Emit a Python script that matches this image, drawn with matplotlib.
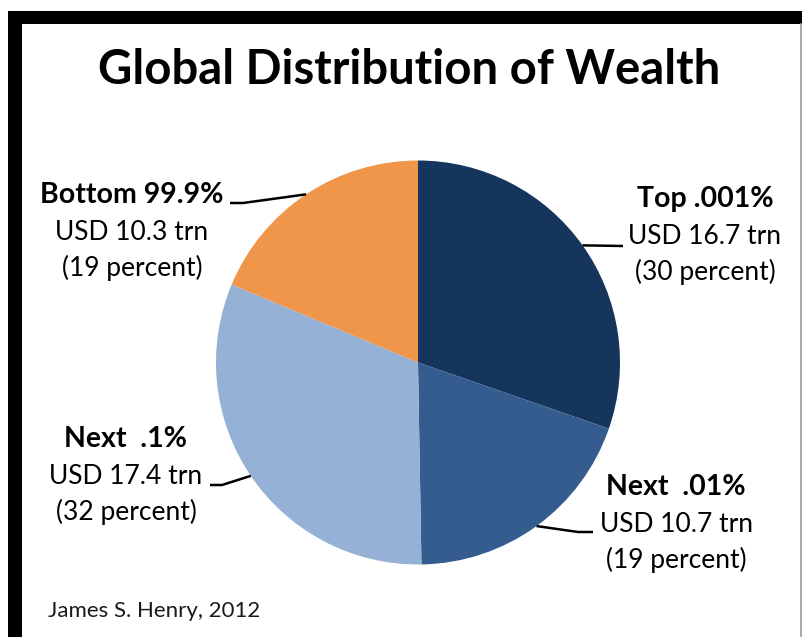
import numpy as np
import matplotlib
matplotlib.use("Agg")
import matplotlib.pyplot as plt
from matplotlib.patches import Rectangle

# wealth held by each group (USD trillion, share in percent)
groups = ["Top .001%", "Next  .01%", "Next  .1%", "Bottom 99.9%"]
wealth_trn = [16.7, 10.7, 17.4, 10.3]
share_pct = [30, 19, 32, 19]
colors = ["#16355C", "#345C8E", "#95B2D6", "#F0964A"]

plt.rcParams["font.family"] = ["Lato", "DejaVu Sans"]

W, H = 802, 637
fig = plt.figure(figsize=(W / 100, H / 100), dpi=100)
fig.patch.set_facecolor("white")

# pie placement in pixels
cx, cy, r = 418, 362.5, 202
ax = fig.add_axes([(cx - r) / W, (H - cy - r) / H, 2 * r / W, 2 * r / H])
wedges, _ = ax.pie(wealth_trn, colors=colors, startangle=90, counterclock=False,
                   wedgeprops=dict(linewidth=0))
ax.set_xlim(-1, 1)
ax.set_ylim(-1, 1)
ax.set_aspect("equal")

# overlay in pixel coords for frame, title and labels
ov = fig.add_axes([0, 0, 1, 1], zorder=5)
ov.set_xlim(0, W)
ov.set_ylim(H, 0)
ov.axis("off")
ov.patch.set_alpha(0)

# black frame at top and left, thin grey edge at right
ov.add_patch(Rectangle((8, 11), W - 8, 13, color="black", lw=0))
ov.add_patch(Rectangle((8, 11), 14, H - 11, color="black", lw=0))
ov.plot([801, 801], [24, H], color="#9a9a9a", lw=1.2)

ov.text(409.5, 83.5, "Global Distribution of Wealth", ha="center", va="baseline",
        fontsize=34, fontweight="bold", color="black")

# label block: centre x, first baseline, leader end, leader elbow
label_pos = [
    (705, 207, (623, 246), (623, 246)),
    (676, 495, (593, 532), (578, 532)),
    (126, 447, (210, 485), (222, 485)),
    (132, 203, (230, 203), (243, 203)),
]

for w, name, val, pct, (lx, ly, end, elbow) in zip(wedges, groups, wealth_trn, share_pct, label_pos):
    ov.text(lx, ly, name, ha="center", va="baseline", fontsize=20.5, fontweight="bold")
    ov.text(lx, ly + 37, f"USD {val} trn", ha="center", va="baseline", fontsize=19)
    ov.text(lx, ly + 73, f"({pct} percent)", ha="center", va="baseline", fontsize=19)
    mid = np.deg2rad((w.theta1 + w.theta2) / 2)
    px, py = cx + r * np.cos(mid), cy - r * np.sin(mid)
    ov.plot([end[0], elbow[0], px], [end[1], elbow[1], py], color="black", lw=1.8,
            solid_capstyle="butt")

ov.text(48, 617, "James S. Henry, 2012", ha="left", va="baseline", fontsize=16,
        color="#1a1a1a")

fig.savefig("out.png", dpi=100, facecolor="white")
